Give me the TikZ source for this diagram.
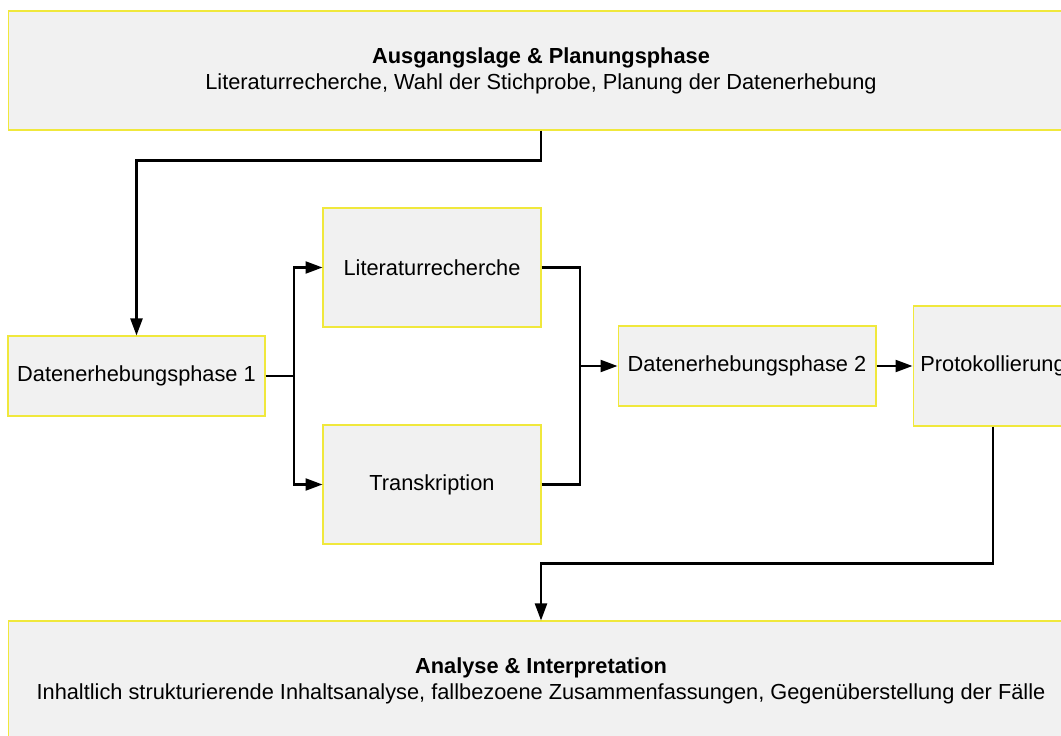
\documentclass[tikz,border=0pt]{standalone}
\usepackage{fontspec}
\setmainfont{Liberation Sans}
\usetikzlibrary{arrows.meta}

\definecolor{boxfill}{RGB}{241,241,241}
\definecolor{boxline}{RGB}{240,232,60}

\begin{document}
\begin{tikzpicture}[
  x=0.02cm, y=-0.02cm,
  box/.style={rectangle, draw=boxline, fill=boxfill, line width=0.6pt, inner sep=0pt, align=center,
    font=\fontsize{12.4}{14.8}\selectfont},
  arrow/.style={-{Triangle[length=0.34cm, width=0.24cm]}, line width=1.3pt},
  link/.style={line width=1.3pt}
]
  \useasboundingbox (0,0) rectangle (1061,736);
  \clip (0,0) rectangle (1061,736);

  \node[box, minimum width=21.32cm, minimum height=2.38cm] (plan) at (541,70.5)
    {\textbf{Ausgangslage \& Planungsphase}\\Literaturrecherche, Wahl der Stichprobe, Planung der Datenerhebung};
  \node[box, minimum width=5.14cm, minimum height=1.6cm] (phaseone) at (136.5,376) {Datenerhebungsphase 1};
  \node[box, minimum width=4.36cm, minimum height=2.38cm] (litsearch) at (432,267.5) {Literaturrecherche};
  \node[box, minimum width=4.36cm, minimum height=2.38cm] (transcript) at (432,484.5) {Transkription};
  \node[box, minimum width=5.16cm, minimum height=1.6cm] (phasetwo) at (747,366) {Datenerhebungsphase 2};
  \node[box, minimum width=3.2cm, minimum height=2.4cm] (protocol) at (993,366) {Protokollierung};
  \node[box, minimum width=21.32cm, minimum height=2.38cm] (analysis) at (541,680.5)
    {\textbf{Analyse \& Interpretation}\\Inhaltlich strukturierende Inhaltsanalyse, fallbezoene Zusammenfassungen, Gegenüberstellung der Fälle};

  \coordinate (split) at (294,376);
  \coordinate (join) at (580,366);

  \draw[arrow] (plan.south) -- ++(0,30) -| (phaseone.north);
  \draw[link] (phaseone.east) -- (split);
  \draw[arrow] (split) |- (litsearch.west);
  \draw[arrow] (split) |- (transcript.west);
  \draw[link] (litsearch.east) -| (join);
  \draw[link] (transcript.east) -| (join);
  \draw[arrow] (join) -- (phasetwo.west);
  \draw[arrow] (phasetwo.east) -- (protocol.west);
  \draw[arrow] (protocol.south) -- ++(0,137) -| (analysis.north);
\end{tikzpicture}
\end{document}
